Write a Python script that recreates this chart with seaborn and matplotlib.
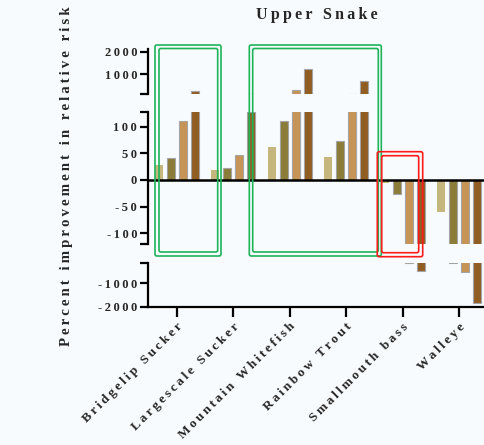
import pandas as pd
import seaborn as sns
import matplotlib.pyplot as plt
from matplotlib.patches import FancyBboxPatch

# data
species = ["Bridgelip Sucker", "Largescale Sucker", "Mountain Whitefish",
           "Rainbow Trout", "Smallmouth bass", "Walleye"]
series_names = ["Scenario 1", "Scenario 2", "Scenario 3", "Scenario 4"]
s1 = [28, 19, 62, 43, -5, -60]
s2 = [41, 23, 111, 73, -26, -130]
s3 = [111, 47, 300, 145, -130, -530]
s4 = [270, 128, 1250, 720, -466, -1855]
colors = ["#c4b67c", "#8c7c3a", "#c69454", "#905e22"]

top_ticks = [1000, 2000]
mid_ticks = [-100, -50, 0, 50, 100]
bot_ticks = [-2000, -1000]

rows = []
for name, vals in zip(series_names, [s1, s2, s3, s4]):
    for sp, v in zip(species, vals):
        rows.append({"species": sp, "series": name, "value": v})
df = pd.DataFrame(rows)

sns.set_theme(style="white")
plt.rcParams['font.family'] = ['Liberation Serif', 'DejaVu Serif']
plt.rcParams['font.weight'] = 'bold'

W, H = 485, 445
bg = "#f8fbfd"
fig = plt.figure(figsize=(W / 100, H / 100), dpi=100, facecolor=bg)


def spaced(s):
    return "\u2009".join(s)


def px_axes(top, bottom):
    # pixel rows (from top) -> figure fraction rect
    x0 = 148.3 / W
    w = (487.3 - 148.3) / W
    return [x0, 1 - bottom / H, w, (bottom - top) / H]


ax_top = fig.add_axes(px_axes(49.3, 94.3))
ax_mid = fig.add_axes(px_axes(112.3, 244.3))
ax_bot = fig.add_axes(px_axes(262.7, 306.7))

segments = [
    (ax_top, (130, 2100), top_ticks),
    (ax_mid, (-121, 127), mid_ticks),
    (ax_bot, (-2000, -125), bot_ticks),
]

for ax, lim, ticks in segments:
    ax.set_facecolor("none")
    sns.barplot(data=df, x="species", y="value", hue="series", palette=colors,
                order=species, hue_order=series_names, width=0.85, gap=0.33,
                errorbar=None, legend=False, ax=ax, saturation=1,
                edgecolor="#a4a4a4", linewidth=0.8)
    # first series has no visible outline
    for p in ax.containers[0]:
        p.set_edgecolor("none")
    ax.set_xlim(-0.5, 5.5)
    ax.set_ylim(*lim)
    ax.set_xlabel("")
    ax.set_ylabel("")
    for side in ["top", "right", "bottom"]:
        ax.spines[side].set_visible(False)
    ax.spines["left"].set_linewidth(1.6)
    ax.spines["left"].set_color("black")
    ax.set_yticks(ticks)
    ax.set_yticklabels([spaced(str(t)) for t in ticks], fontsize=9,
                       fontweight="bold")
    ax.tick_params(axis="y", direction="out", length=6, width=1.6,
                   color="black", pad=2, left=True)
    ax.tick_params(axis="y", which="minor", direction="out", length=6,
                   width=1.6, color="black", left=True)
    ax.tick_params(axis="x", bottom=False, labelbottom=False)

# caps at the ends of the broken segments
ax_top.set_yticks([130], minor=True)
ax_mid.set_yticks([-121, 127], minor=True)
ax_bot.set_yticks([-125], minor=True)

# zero line
ax_mid.axhline(0, color="black", lw=1.8, zorder=5)

# bottom axis with category labels
ax_bot.spines["bottom"].set_visible(True)
ax_bot.spines["bottom"].set_linewidth(1.6)
ax_bot.spines["bottom"].set_color("black")
ax_bot.tick_params(axis="x", bottom=True, labelbottom=True, direction="out",
                   length=7, width=1.6, color="black", pad=3)
ax_bot.set_xticks(range(len(species)))
ax_bot.set_xticklabels([spaced(s) for s in species], rotation=45, ha="right",
                       va="top", rotation_mode="anchor", fontsize=9.5,
                       fontweight="bold")

# titles
fig.text(316.5 / W, 1 - 15 / H, spaced("Upper Snake"), ha="center",
         va="center", fontsize=11.5, fontweight="bold")
fig.text(67 / W, 1 - 176 / H, spaced("Percent improvement in relative risk"),
         rotation=90, ha="center", va="center", fontsize=10.7,
         fontweight="bold")


# highlight boxes (double outlines), pixel coords from the top-left
def box(x0, y0, x1, y1, color):
    p = FancyBboxPatch((x0 / W, 1 - y1 / H), (x1 - x0) / W, (y1 - y0) / H,
                       boxstyle="round,pad=0,rounding_size=0.004",
                       transform=fig.transFigure, fill=False,
                       edgecolor=color, lw=1.2, zorder=10)
    fig.add_artist(p)


green = "#1db45a"
red = "#ff1a1a"
box(155, 45, 221, 256, green)
box(159, 48.5, 217.7, 252, green)
box(249.3, 45, 381.3, 256, green)
box(252.7, 48.5, 378.3, 252, green)
box(377.3, 151.7, 422.7, 256.7, red)
box(381.7, 155.7, 418.7, 252.7, red)

plt.savefig("out.png", dpi=100, facecolor=bg)
